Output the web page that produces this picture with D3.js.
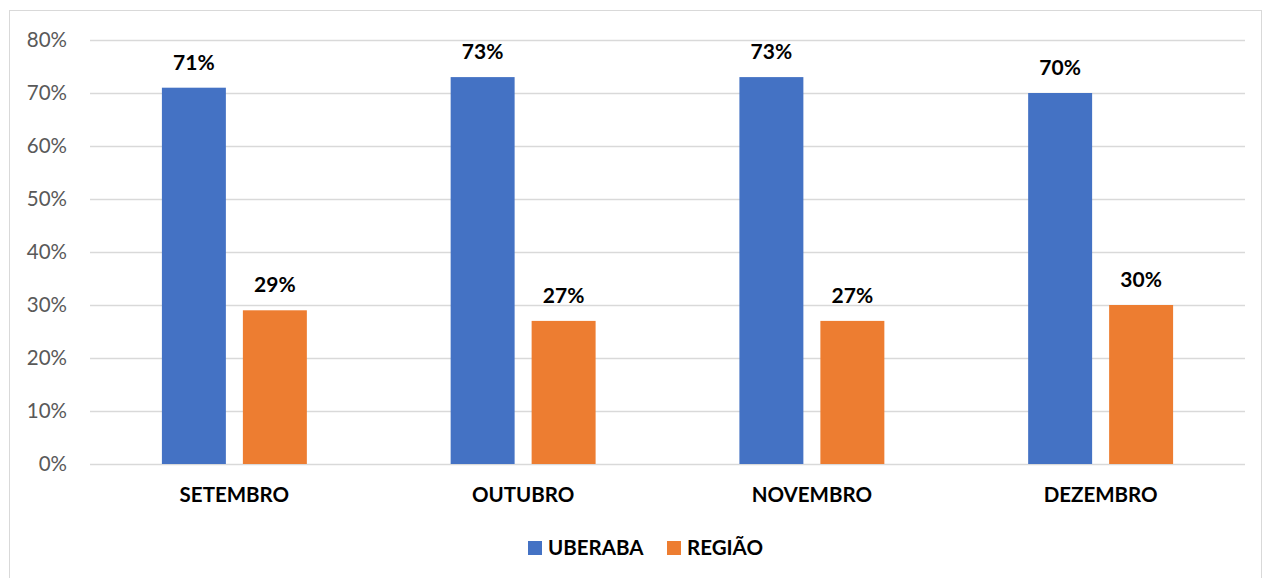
<!DOCTYPE html>
<html>
<head>
<meta charset="utf-8">
<script src="https://cdn.jsdelivr.net/npm/d3@7"></script>
<style>
  body { margin: 0; background: #fff; }
  svg { display: block; font-family: Lato, "Open Sans", sans-serif; }
</style>
</head>
<body>
<div id="chart"></div>
<script>
const months = ["SETEMBRO", "OUTUBRO", "NOVEMBRO", "DEZEMBRO"];
const seriesNames = ["UBERABA", "REGIÃO"];
const uberaba = [0.71, 0.73, 0.73, 0.70];
const regiao = [0.29, 0.27, 0.27, 0.30];
const yTicks = [0, 0.1, 0.2, 0.3, 0.4, 0.5, 0.6, 0.7, 0.8];
const colors = ["#4472c4", "#ed7d31"];

const width = 1263, height = 578;
const margin = { top: 40, right: 18, bottom: 114, left: 90 };

const rows = months.map((m, i) => ({ month: m, values: [uberaba[i], regiao[i]] }));

const svg = d3.select("#chart").append("svg")
    .attr("width", width)
    .attr("height", height);

// outer frame
svg.append("rect")
    .attr("x", 9.5).attr("y", 10.5)
    .attr("width", 1252).attr("height", 580)
    .attr("fill", "none")
    .attr("stroke", "#d9d9d9");

const x0 = d3.scaleBand()
    .domain(months)
    .range([margin.left, width - margin.right])
    .paddingInner(0.498)
    .paddingOuter(0.249);

const x1 = d3.scaleBand()
    .domain(seriesNames)
    .range([0, x0.bandwidth()])
    .paddingInner(0.21);

const y = d3.scaleLinear()
    .domain([0, 0.8])
    .range([height - margin.bottom, margin.top]);

// gridlines + y labels
const yAxis = d3.axisLeft(y)
    .tickValues(yTicks)
    .tickFormat(d3.format(".0%"))
    .tickSize(-(width - margin.left - margin.right))
    .tickPadding(23);

svg.append("g")
    .attr("class", "y axis")
    .attr("transform", `translate(${margin.left},0)`)
    .call(yAxis)
    .call(g => g.select(".domain").remove())
    .call(g => g.selectAll("line").attr("stroke", "#d9d9d9").attr("stroke-width", 1.3))
    .call(g => g.selectAll("text")
        .attr("fill", "#595959")
        .style("font-size", "20.5px")
        .style("font-family", "Lato, sans-serif"));

// bars
const groups = svg.selectAll("g.month")
    .data(rows)
    .enter().append("g")
    .attr("class", "month")
    .attr("transform", d => `translate(${x0(d.month)},0)`);

groups.selectAll("rect")
    .data(d => d.values.map((v, i) => ({ key: seriesNames[i], value: v, i })))
    .enter().append("rect")
    .attr("x", d => x1(d.key))
    .attr("width", x1.bandwidth())
    .attr("y", d => y(d.value))
    .attr("height", d => y(0) - y(d.value))
    .attr("fill", d => colors[d.i]);

groups.selectAll("text.val")
    .data(d => d.values.map((v, i) => ({ key: seriesNames[i], value: v })))
    .enter().append("text")
    .attr("class", "val")
    .attr("x", d => x1(d.key) + x1.bandwidth() / 2)
    .attr("y", d => y(d.value) - 18)
    .attr("text-anchor", "middle")
    .style("font-size", "21px")
    .style("font-weight", "bold")
    .attr("fill", "#000")
    .text(d => d3.format(".0%")(d.value));

// category axis labels
const xAxis = d3.axisBottom(x0).tickSize(0).tickPadding(23);
svg.append("g")
    .attr("class", "x axis")
    .attr("transform", `translate(0,${y(0)})`)
    .call(xAxis)
    .call(g => g.select(".domain").remove())
    .call(g => g.selectAll("text")
        .attr("fill", "#000")
        .style("font-size", "20.5px")
        .style("font-weight", "bold")
        .style("font-family", "Lato, sans-serif"));

// legend
const legend = svg.append("g").attr("class", "legend");
const legendX = [528, 667];
seriesNames.forEach((name, i) => {
    legend.append("rect")
        .attr("x", legendX[i]).attr("y", 541)
        .attr("width", 14).attr("height", 14)
        .attr("fill", colors[i]);
    legend.append("text")
        .attr("x", legendX[i] + 20).attr("y", 555)
        .style("font-size", "20.5px")
        .style("font-weight", "bold")
        .attr("fill", "#000")
        .text(name);
});
</script>
</body>
</html>
